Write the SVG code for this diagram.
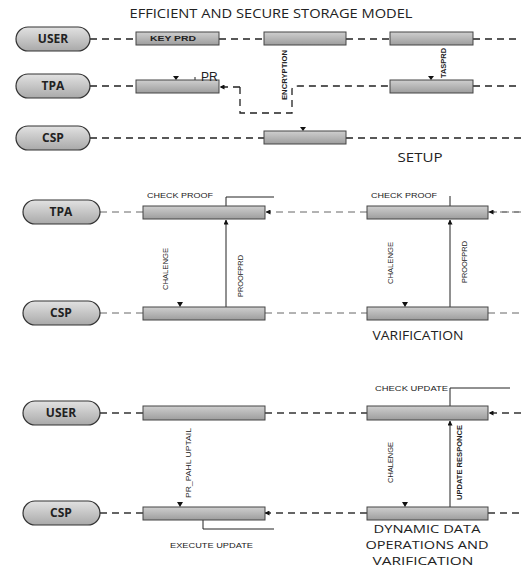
<svg xmlns="http://www.w3.org/2000/svg" width="521" height="569" viewBox="0 0 521 569">
<defs>
<linearGradient id="gBox" x1="0" y1="0" x2="0" y2="1">
<stop offset="0" stop-color="#cfcfcf"/><stop offset="1" stop-color="#9d9d9d"/>
</linearGradient>
<linearGradient id="gPill" x1="0" y1="0" x2="0" y2="1">
<stop offset="0" stop-color="#e2e2e2"/><stop offset="1" stop-color="#a9a9a9"/>
</linearGradient>
<marker id="ah" viewBox="0 0 10 10" refX="9" refY="5" markerWidth="5" markerHeight="5" orient="auto" markerUnits="userSpaceOnUse">
<path d="M0,0 L10,5 L0,10 z" fill="#111"/>
</marker>
<style>
.pill{fill:url(#gPill);stroke:#333;stroke-width:1.2}
.box{fill:url(#gBox);stroke:#444;stroke-width:1}
.pt{font-family:"Open Sans","Liberation Sans",sans-serif;font-weight:bold;font-size:12px;fill:#222;text-anchor:middle}
.d1{stroke:#222;stroke-width:1.3;stroke-dasharray:7 5;fill:none}
.d2{stroke:#666;stroke-width:1;stroke-dasharray:7 5;fill:none}
.d3{stroke:#333;stroke-width:1.4;stroke-dasharray:7 5;fill:none}
.sl{stroke:#222;stroke-width:1;fill:none}
.sm{font-family:"Liberation Sans",sans-serif;font-size:7px;fill:#222}
.smb{font-family:"Liberation Sans",sans-serif;font-size:7px;font-weight:bold;fill:#222}
.lbl{font-family:"Open Sans","Liberation Sans",sans-serif;font-size:12px;fill:#222;text-anchor:middle}
.lb3{font-family:"Open Sans","Liberation Sans",sans-serif;font-size:11px;fill:#222;text-anchor:middle}
.tri{fill:#111}
</style>
</defs>

<text x="271" y="18" class="lbl" textLength="283" lengthAdjust="spacingAndGlyphs">EFFICIENT AND SECURE STORAGE MODEL</text>

<g id="connectors">
<!-- section 1 -->
<path class="d1" d="M90,39 H136 M219,39 H264 M346,39 H390 M473,39 H521"/>
<path class="d1" d="M90,86 H136"/>
<path class="d1" d="M240,87 V113 H292 V89 Q293,86 298,86 H390" />
<path class="d1" d="M240,87 H220" marker-end="url(#ah)"/>
<path class="d1" d="M473,86 H521"/>
<path class="d1" d="M90,138 H264 M346,138 H521"/>
<line class="sl" x1="195" y1="77" x2="195" y2="80"/>
<!-- section 2 -->
<path class="d2" d="M100,212 H143 M488,212 H521"/>
<path class="d2" d="M367,212 H266" marker-end="url(#ah)"/>
<path class="d2" d="M521,212 H489" marker-end="url(#ah)"/>
<path class="d2" d="M100,313 H143 M265,313 H367 M488,313 H521"/>
<line class="sl" x1="226" y1="307" x2="226" y2="220" marker-end="url(#ah)"/>
<line class="sl" x1="450" y1="307" x2="450" y2="220" marker-end="url(#ah)"/>
<path class="sl" d="M226,206 V197 H274"/>
<line class="sl" x1="450" y1="206" x2="450" y2="196"/>
<!-- section 3 -->
<path class="d3" d="M100,413 H143 M265,413 H367"/>
<path class="d3" d="M521,413 H489" marker-end="url(#ah)"/>
<path class="d3" d="M100,513 H143 M488,513 H521"/>
<path class="d3" d="M367,513 H265" marker-end="url(#ah)"/>
<line class="sl" x1="450" y1="507" x2="450" y2="421" marker-end="url(#ah)"/>
<path class="sl" d="M450,406 V388 H510"/>
<path class="sl" d="M203,520 V529 H274"/>
</g>

<!-- Section 1 nodes -->
<g id="user1"><rect class="pill" x="16" y="27" width="74" height="24" rx="12"/><text class="pt" x="53" y="43">USER</text></g>
<g id="tpa1"><rect class="pill" x="16" y="74" width="74" height="24" rx="12"/><text class="pt" x="53" y="90">TPA</text></g>
<g id="csp1"><rect class="pill" x="16" y="126" width="74" height="24" rx="12"/><text class="pt" x="53" y="142">CSP</text></g>

<g id="u1b1"><rect class="box" x="136" y="32" width="83" height="13"/><text class="smb" x="150" y="41" textLength="46" lengthAdjust="spacingAndGlyphs">KEY PRD</text></g>
<g id="u1b2"><rect class="box" x="264" y="32" width="82" height="13"/></g>
<g id="u1b3"><rect class="box" x="390" y="32" width="83" height="13"/></g>
<g id="t1b1"><rect class="box" x="136" y="80" width="83" height="13"/><polygon class="tri" points="173,76 179,76 176,80"/></g>
<g id="t1b2"><rect class="box" x="390" y="80" width="83" height="13"/><polygon class="tri" points="428,76 434,76 431,80"/></g>
<g id="c1b1"><rect class="box" x="264" y="131" width="82" height="13"/><polygon class="tri" points="300,127 306,127 303,131"/></g>

<text x="201" y="81" font-family="Liberation Sans, sans-serif" font-size="12" fill="#222">PR</text>
<text class="smb" transform="translate(287,100) rotate(-90)" textLength="50" lengthAdjust="spacingAndGlyphs">ENCRYPTION</text>
<text class="smb" transform="translate(446,78) rotate(-90)" textLength="30" lengthAdjust="spacingAndGlyphs">TASPRD</text>
<text class="lbl" x="420" y="162" textLength="45" lengthAdjust="spacingAndGlyphs">SETUP</text>

<!-- Section 2 nodes -->
<g id="tpa2"><rect class="pill" x="23" y="200" width="77" height="24" rx="12"/><text class="pt" x="61" y="216">TPA</text></g>
<g id="csp2"><rect class="pill" x="23" y="301" width="77" height="24" rx="12"/><text class="pt" x="61" y="317">CSP</text></g>
<g id="t2b1"><rect class="box" x="143" y="206" width="122" height="13"/></g>
<g id="t2b2"><rect class="box" x="367" y="206" width="121" height="13"/></g>
<g id="c2b1"><rect class="box" x="143" y="307" width="122" height="13"/><polygon class="tri" points="177,302 183,302 180,307"/></g>
<g id="c2b2"><rect class="box" x="367" y="307" width="121" height="13"/><polygon class="tri" points="402,302 408,302 405,307"/></g>
<text class="sm" x="147" y="198" textLength="66" lengthAdjust="spacingAndGlyphs">CHECK PROOF</text>
<text class="sm" x="371" y="198" textLength="66" lengthAdjust="spacingAndGlyphs">CHECK PROOF</text>
<text class="sm" transform="translate(168,290) rotate(-90)" textLength="42" lengthAdjust="spacingAndGlyphs">CHALENGE</text>
<text class="sm" transform="translate(243,297) rotate(-90)" textLength="42" lengthAdjust="spacingAndGlyphs">PROOFPRD</text>
<text class="sm" transform="translate(393,284) rotate(-90)" textLength="42" lengthAdjust="spacingAndGlyphs">CHALENGE</text>
<text class="sm" transform="translate(467,283) rotate(-90)" textLength="42" lengthAdjust="spacingAndGlyphs">PROOFPRD</text>
<text class="lbl" x="418" y="340" textLength="91" lengthAdjust="spacingAndGlyphs">VARIFICATION</text>

<!-- Section 3 nodes -->
<g id="user3"><rect class="pill" x="23" y="401" width="77" height="24" rx="12"/><text class="pt" x="61" y="417">USER</text></g>
<g id="csp3"><rect class="pill" x="23" y="501" width="77" height="24" rx="12"/><text class="pt" x="61" y="517">CSP</text></g>
<g id="u3b1"><rect class="box" x="143" y="406" width="122" height="14"/></g>
<g id="u3b2"><rect class="box" x="367" y="406" width="121" height="14"/></g>
<g id="c3b1"><rect class="box" x="143" y="507" width="122" height="13"/><polygon class="tri" points="177,502 183,502 180,507"/></g>
<g id="c3b2"><rect class="box" x="367" y="507" width="121" height="13"/><polygon class="tri" points="402,502 408,502 405,507"/></g>
<text class="sm" x="375" y="391" textLength="73" lengthAdjust="spacingAndGlyphs">CHECK UPDATE</text>
<text class="sm" transform="translate(191,498) rotate(-90)" textLength="70" lengthAdjust="spacingAndGlyphs">PR_PAHL UPTAIL</text>
<text class="sm" x="170" y="548" textLength="83" lengthAdjust="spacingAndGlyphs">EXECUTE UPDATE</text>
<text class="sm" transform="translate(393,483) rotate(-90)" textLength="41" lengthAdjust="spacingAndGlyphs">CHALENGE</text>
<text class="smb" transform="translate(462,500) rotate(-90)" textLength="75" lengthAdjust="spacingAndGlyphs">UPDATE RESPONCE</text>
<text class="lb3" x="427" y="533" textLength="107" lengthAdjust="spacingAndGlyphs">DYNAMIC DATA</text>
<text class="lb3" x="427" y="549" textLength="123" lengthAdjust="spacingAndGlyphs">OPERATIONS AND</text>
<text class="lb3" x="423" y="565" textLength="101" lengthAdjust="spacingAndGlyphs">VARIFICATION</text>
</svg>
